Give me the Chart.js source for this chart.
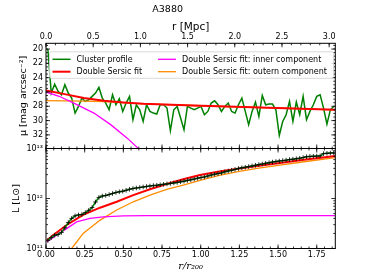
<!DOCTYPE html>
<html>
<head>
<meta charset="utf-8">
<script src="https://cdn.jsdelivr.net/npm/chart.js@4.4.0/dist/chart.umd.min.js"></script>
<style>
  html, body { margin: 0; padding: 0; background: #fff; }
  #wrap { position: relative; width: 374px; height: 280px; }
  #wrap canvas { position: absolute; left: 0; }
  #profileChart { top: 0; }
  #lumChart { top: 140px; }
</style>
</head>
<body>
<div id="wrap">
  <canvas id="profileChart" width="374" height="158"></canvas>
  <canvas id="lumChart" width="374" height="140"></canvas>
</div>
<script>
// radial bins, in r/r200
const radius = [0.012, 0.034, 0.056, 0.078, 0.100, 0.122, 0.144, 0.166, 0.188, 0.210,
  0.232, 0.254, 0.276, 0.298, 0.320, 0.342, 0.364, 0.386, 0.408, 0.430,
  0.452, 0.474, 0.496, 0.518, 0.540, 0.562, 0.584, 0.606, 0.628, 0.650,
  0.672, 0.694, 0.716, 0.738, 0.760, 0.782, 0.804, 0.826, 0.848, 0.870,
  0.892, 0.914, 0.936, 0.958, 0.980, 1.002, 1.024, 1.046, 1.068, 1.090,
  1.112, 1.134, 1.156, 1.178, 1.200, 1.222, 1.244, 1.266, 1.288, 1.310,
  1.332, 1.354, 1.376, 1.398, 1.420, 1.442, 1.464, 1.486, 1.508, 1.530,
  1.552, 1.574, 1.596, 1.618, 1.640, 1.662, 1.684, 1.706, 1.728, 1.750,
  1.772, 1.794, 1.816, 1.838, 1.860];

// surface brightness profile [mag arcsec^-2]
const muProfile = [20.0, 26.15, 24.9, 25.92, 26.39, 24.99, 26.15, 26.85, 28.95, 28.02,
  26.85, 27.32, 27.09, 26.62, 26.15, 25.36, 26.85, 27.55, 28.49, 26.39,
  27.79, 26.95, 28.72, 27.55, 26.62, 29.88, 27.79, 28.49, 30.12, 27.79,
  28.72, 28.95, 29.09, 27.79, 27.79, 28.25, 31.42, 28.49, 28.02, 29.65,
  31.28, 28.02, 28.25, 28.49, 28.25, 28.02, 29.18, 28.72, 27.55, 27.23,
  27.79, 28.72, 28.02, 27.55, 28.72, 28.95, 27.79, 26.85, 28.72, 30.58,
  28.72, 27.41, 29.42, 26.48, 27.79, 27.69, 27.69, 28.49, 32.07, 30.12,
  29.18, 27.32, 30.12, 27.41, 29.18, 26.62, 29.88, 28.72, 27.79, 26.62,
  26.39, 28.25, 30.49, 28.49, 28.02];

// cumulative luminosity [1e12 Lsun]
const lumProfile = [0.145, 0.165, 0.185, 0.19, 0.21, 0.26, 0.33, 0.40, 0.45, 0.47,
  0.48, 0.52, 0.58, 0.66, 0.85, 1.05, 1.12, 1.15, 1.20, 1.26,
  1.32, 1.36, 1.40, 1.46, 1.53, 1.58, 1.62, 1.66, 1.70, 1.74,
  1.78, 1.81, 1.84, 1.88, 1.92, 1.96, 2.00, 2.05, 2.10, 2.16,
  2.22, 2.30, 2.37, 2.45, 2.55, 2.62, 2.70, 2.82, 2.95, 3.05,
  3.15, 3.25, 3.42, 3.55, 3.68, 3.82, 3.98, 4.12, 4.22, 4.35,
  4.48, 4.62, 4.78, 4.90, 5.05, 5.20, 5.35, 5.48, 5.60, 5.72,
  5.85, 6.00, 6.12, 6.25, 6.40, 6.60, 6.85, 6.95, 7.00, 7.05,
  7.10, 7.90, 8.00, 8.10, 8.20];

// double Sersic fit, surface brightness
const fitR = [0, 0.12, 0.245, 0.375, 0.5, 0.63, 0.95, 1.28, 1.6, 1.87];
const muFit = [25.8, 26.3, 26.85, 27.23, 27.46, 27.65, 27.88, 28.11, 28.3, 28.5];
const innerR = [0, 0.085, 0.18, 0.31, 0.42, 0.525, 0.6, 0.65];
const muInner = [26.0, 26.6, 27.55, 28.95, 30.6, 32.45, 33.95, 35.0];
const outerR = [0, 0.12, 0.245, 0.375, 0.5, 0.63, 0.95, 1.28, 1.6, 1.87];
const muOuter = [27.22, 27.24, 27.27, 27.33, 27.5, 27.67, 27.89, 28.12, 28.31, 28.51];

// double Sersic fit, cumulative luminosity [1e12 Lsun]
const fitLumR = [0.005, 0.06, 0.134, 0.24, 0.349, 0.457, 0.564, 0.672, 0.78, 0.887, 0.995, 1.12, 1.25, 1.375, 1.5, 1.68, 1.87];
const lumFit = [0.145, 0.2, 0.295, 0.47, 0.655, 0.863, 1.17, 1.53, 1.95, 2.42, 2.95, 3.45, 4.0, 4.52, 5.06, 6.0, 7.08];
const innerLumR = [0.005, 0.07, 0.133, 0.198, 0.284, 0.37, 0.5, 0.65, 1.0, 1.87];
const lumInner = [0.135, 0.186, 0.25, 0.34, 0.40, 0.43, 0.45, 0.455, 0.455, 0.455];
const outerLumR = [0.1, 0.166, 0.24, 0.35, 0.457, 0.564, 0.672, 0.78, 0.887, 0.995, 1.12, 1.25, 1.375, 1.5, 1.68, 1.87];
const lumOuter = [0.05, 0.10, 0.2, 0.37, 0.59, 0.86, 1.17, 1.53, 1.86, 2.3, 2.9, 3.5, 4.05, 4.6, 5.5, 6.6];

// tick labels
const muTicks = [20, 22, 24, 26, 28, 30, 32];
const lumTicks = [1e11, 1e12, 1e13];
const lumTickLabels = ['10\u00b9\u00b9', '10\u00b9\u00b2', '10\u00b9\u00b3'];
const radTicks = [0, 0.25, 0.5, 0.75, 1.0, 1.25, 1.5, 1.75];
const mpcTicks = [0, 0.5, 1.0, 1.5, 2.0, 2.5, 3.0];

const R_MAX = 1.87;     // r/r200 at right edge
const MPC_MAX = 3.065;  // same edge in Mpc

Chart.defaults.font.family = 'DejaVu Sans';
Chart.defaults.font.size = 8;
Chart.defaults.color = '#000';
Chart.defaults.animation = false;

const pts = (xs, ys, k) => xs.map((x, i) => ({ x: x, y: ys[i] * (k || 1) }));

function steps(a, b, s) {
  const out = [];
  for (let v = a; v <= b + 1e-9; v += s) out.push(+v.toFixed(4));
  return out;
}
function logMinor(lo, hi) {
  const out = [];
  for (let d = lo; d < hi; d *= 10) for (let m = 2; m < 10; m++) out.push(d * m);
  return out;
}

// frame and inward matplotlib-like ticks
function frameTicks(specs) {
  return {
    id: 'frameTicks',
    afterDatasetsDraw(chart) {
      const { ctx, chartArea: a } = chart;
      ctx.save();
      ctx.strokeStyle = '#000';
      ctx.lineWidth = 0.8;
      ctx.beginPath();
      specs.forEach(s => {
        const sc = chart.scales[s.id];
        s.values.forEach(v => {
          const p = sc.getPixelForValue(v);
          if (sc.isHorizontal()) {
            if (p < a.left - 0.5 || p > a.right + 0.5) return;
            if (s.sides.includes('top')) { ctx.moveTo(p, a.top); ctx.lineTo(p, a.top + s.len); }
            if (s.sides.includes('bottom')) { ctx.moveTo(p, a.bottom); ctx.lineTo(p, a.bottom - s.len); }
          } else {
            if (p < a.top - 0.5 || p > a.bottom + 0.5) return;
            if (s.sides.includes('left')) { ctx.moveTo(a.left, p); ctx.lineTo(a.left + s.len, p); }
            if (s.sides.includes('right')) { ctx.moveTo(a.right, p); ctx.lineTo(a.right - s.len, p); }
          }
        });
      });
      ctx.stroke();
      ctx.lineWidth = 1;
      ctx.strokeRect(a.left, a.top, a.right - a.left, a.bottom - a.top);
      ctx.restore();
    }
  };
}

// two-column legend inside the upper panel
const legendOrder = [
  ['Cluster profile', 0, 0], ['Double Sersic fit', 0, 1],
  ['Double Sersic fit: inner component', 1, 0], ['Double Sersic fit: outern component', 1, 1]
];
const boxLegend = {
  id: 'boxLegend',
  afterDraw(chart) {
    const { ctx, chartArea: a } = chart;
    const x0 = a.left + 3.5, y0 = a.top + 8.5, w = 284, h = 26.5;
    ctx.save();
    ctx.beginPath();
    ctx.roundRect(x0, y0, w, h, 2);
    ctx.fillStyle = 'rgba(255,255,255,0.8)';
    ctx.fill();
    ctx.strokeStyle = '#d0d0d0';
    ctx.lineWidth = 0.8;
    ctx.stroke();
    ctx.font = '8px "DejaVu Sans"';
    ctx.textBaseline = 'middle';
    ctx.fillStyle = '#000';
    legendOrder.forEach(([label, col, row]) => {
      const ds = chart.data.datasets.find(d => d.label === label);
      const lx = x0 + 3 + col * 105.5, ly = y0 + 7.5 + row * 12.4;
      ctx.strokeStyle = ds.borderColor;
      ctx.lineWidth = ds.borderWidth;
      ctx.beginPath();
      ctx.moveTo(lx, ly);
      ctx.lineTo(lx + 18, ly);
      ctx.stroke();
      ctx.fillText(label, lx + 24, ly + 0.5);
    });
    ctx.restore();
  }
};

const lineDs = (label, data, color, width, order) => ({
  label: label, data: data, borderColor: color, backgroundColor: color,
  borderWidth: width, pointRadius: 0, tension: 0, order: order, xAxisID: 'x'
});

new Chart(document.getElementById('profileChart'), {
  type: 'line',
  data: {
    datasets: [
      lineDs('Cluster profile', pts(radius, muProfile), '#008000', 1.5, 4),
      lineDs('Double Sersic fit', pts(fitR, muFit), '#ff0000', 2, 1),
      lineDs('Double Sersic fit: inner component', pts(innerR, muInner), '#ff00ff', 1.3, 2),
      lineDs('Double Sersic fit: outern component', pts(outerR, muOuter), '#ff8c00', 1.3, 3)
    ]
  },
  options: {
    responsive: false,
    events: [],
    // canvas is 158 tall; plot bottom sits at 148.5
    layout: { padding: { left: 0, right: 38.7, top: 0, bottom: 9.5 } },
    plugins: {
      legend: { display: false },
      tooltip: { enabled: false },
      title: {
        display: true, text: 'A3880', color: '#000',
        font: { size: 9.5, weight: 'normal' },
        padding: { top: 4.3, bottom: 2.6 }
      }
    },
    scales: {
      x: { type: 'linear', min: 0, max: R_MAX, display: false },
      xTop: {
        type: 'linear', position: 'top', min: 0, max: MPC_MAX,
        grid: { display: false, drawTicks: false }, border: { display: false },
        afterBuildTicks: s => { s.ticks = mpcTicks.map(v => ({ value: v })); },
        ticks: { padding: 2, maxRotation: 0, callback: v => v.toFixed(1) },
        title: { display: true, text: 'r [Mpc]', font: { size: 10.5 }, padding: { top: 2.7, bottom: 0 } },
        afterFit: s => { s.height = 25; }
      },
      y: {
        type: 'linear', reverse: true, min: 19.2, max: 33.9,
        grid: { display: false, drawTicks: false }, border: { display: false },
        afterBuildTicks: s => { s.ticks = muTicks.map(v => ({ value: v })); },
        ticks: { padding: 3, callback: v => String(v) },
        title: { display: true, text: '\u03bc [mag arcsec\u207b\u00b2]', font: { size: 9.5 }, padding: { top: 18.3, bottom: 0 } },
        afterFit: s => { s.width = 46; }
      }
    }
  },
  plugins: [frameTicks([
    { id: 'xTop', values: mpcTicks, len: 4, sides: ['top'] },
    { id: 'xTop', values: steps(0, 3.0, 0.1), len: 2, sides: ['top'] },
    { id: 'x', values: radTicks, len: 4, sides: ['bottom'] },
    { id: 'x', values: steps(0, 1.85, 0.05), len: 2, sides: ['bottom'] },
    { id: 'y', values: muTicks, len: 4, sides: ['left', 'right'] },
    { id: 'y', values: steps(19.5, 33.5, 0.5), len: 2, sides: ['left', 'right'] }
  ]), boxLegend]
});

new Chart(document.getElementById('lumChart'), {
  type: 'line',
  data: {
    datasets: [
      Object.assign(lineDs('Cluster profile', pts(radius, lumProfile, 1e12), '#008000', 1.5, 0), {
        pointRadius: 2.3, pointStyle: 'cross', pointBorderColor: '#000', pointBorderWidth: 0.8
      }),
      lineDs('Double Sersic fit', pts(fitLumR, lumFit, 1e12), '#ff0000', 2, 1),
      lineDs('Double Sersic fit: inner component', pts(innerLumR, lumInner, 1e12), '#ff00ff', 1.3, 2),
      lineDs('Double Sersic fit: outern component', pts(outerLumR, lumOuter, 1e12), '#ff8c00', 1.3, 3)
    ]
  },
  options: {
    responsive: false,
    events: [],
    layout: { padding: { left: 0, right: 38.7, top: 8.5, bottom: 0 } },
    plugins: { legend: { display: false }, tooltip: { enabled: false } },
    scales: {
      x: {
        type: 'linear', min: 0, max: R_MAX,
        grid: { display: false, drawTicks: false }, border: { display: false },
        afterBuildTicks: s => { s.ticks = radTicks.map(v => ({ value: v })); },
        ticks: { padding: 1.7, maxRotation: 0, callback: v => v.toFixed(2) },
        title: {
          display: true, text: 'r/r\u2082\u2080\u2080',
          font: { family: 'DejaVu Serif', style: 'italic', size: 10 },
          padding: { top: 0, bottom: 8 }
        },
        afterFit: s => { s.height = 31.5; }
      },
      y: {
        type: 'logarithmic', min: 1e11, max: 1e13,
        grid: { display: false, drawTicks: false }, border: { display: false },
        afterBuildTicks: s => { s.ticks = lumTicks.map(v => ({ value: v })); },
        ticks: { padding: 3, callback: (v, i) => lumTickLabels[i] },
        title: { display: true, text: 'L [L\u2299]', font: { size: 9.5 }, padding: { top: 11.3, bottom: 0 } },
        afterFit: s => { s.width = 46; }
      }
    }
  },
  plugins: [frameTicks([
    { id: 'x', values: radTicks, len: 4, sides: ['top', 'bottom'] },
    { id: 'x', values: steps(0, 1.85, 0.05), len: 2, sides: ['top', 'bottom'] },
    { id: 'y', values: lumTicks, len: 4, sides: ['left', 'right'] },
    { id: 'y', values: logMinor(1e11, 1e13), len: 2, sides: ['left', 'right'] }
  ])]
});
</script>
</body>
</html>
